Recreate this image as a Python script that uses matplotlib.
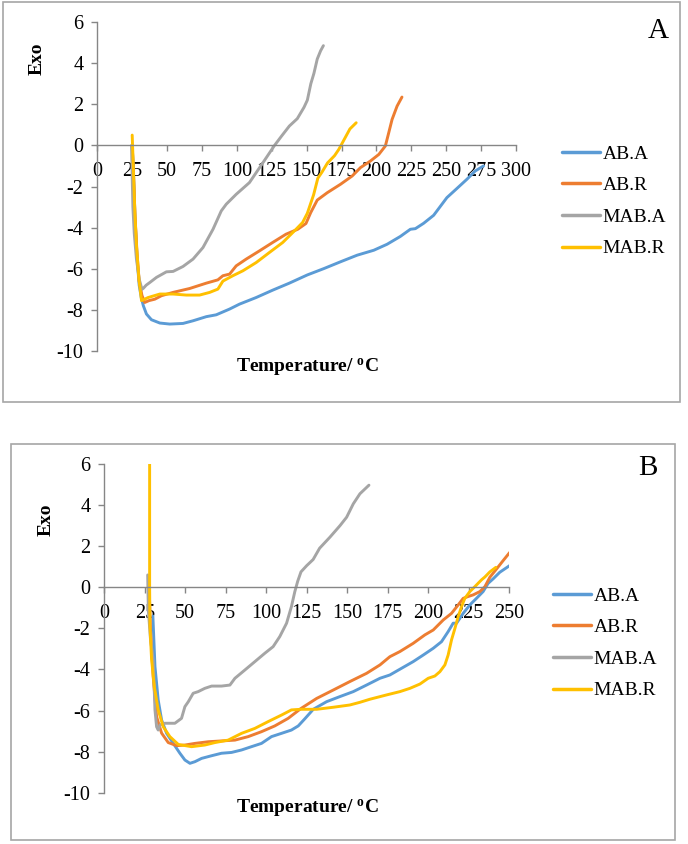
import matplotlib
matplotlib.use('Agg')
from matplotlib import pyplot as plt
from matplotlib.patches import Rectangle

plt.rcParams['font.family'] = ['Liberation Serif', 'DejaVu Serif']
plt.rcParams['mathtext.fontset'] = 'custom'
plt.rcParams['mathtext.rm'] = 'Liberation Serif'
plt.rcParams['mathtext.bf'] = 'Liberation Serif:bold'
plt.rcParams['axes.unicode_minus'] = False

series_names = ['AB.A', 'AB.R', 'MAB.A', 'MAB.R']
colors = ['#5B9BD5', '#ED7D31', '#A5A5A5', '#FFC000']

# ---- panel A data (temperature, exo) ----
a_aba_x = [25, 26, 27, 28.5, 30, 31.5, 33, 35.2, 38.8, 44.8, 51.9, 61.4, 68.6, 78.1, 85.2, 94.8, 101.9,
           113.8, 125.7, 137.6, 150.5, 162.4, 174.3, 186.2, 198.1, 207.6, 217.1, 224.3, 227.9, 233.8,
           241, 250.5, 257.6, 264.8, 270.7, 276.7]
a_aba_y = [0, -1.5, -3.5, -5.5, -6.8, -7.4, -7.8, -8.2, -8.48, -8.64, -8.69, -8.66, -8.53, -8.33, -8.24,
           -7.96, -7.72, -7.4, -7.04, -6.7, -6.3, -5.99, -5.66, -5.34, -5.1, -4.81, -4.43, -4.08, -4.05,
           -3.79, -3.4, -2.54, -2.1, -1.65, -1.25, -1.0]

a_abr_x = [25, 26, 27, 28.5, 30, 32, 34, 37, 41.2, 46, 54.3, 66.2, 78.1, 86.4, 90, 94.8, 99.5, 106.7,
           116.2, 125.7, 135.2, 143.6, 149.5, 152.9, 157.6, 164.8, 174.3, 182.6, 188.6, 195.7, 201.7,
           206.4, 208.8, 211.2, 214.8, 218.3]
a_abr_y = [0, -1.5, -3.4, -5.3, -6.6, -7.3, -7.64, -7.55, -7.48, -7.31, -7.15, -6.96, -6.7, -6.54, -6.34,
           -6.26, -5.86, -5.53, -5.13, -4.72, -4.32, -4.08, -3.8, -3.27, -2.66, -2.3, -1.89, -1.49, -1.08,
           -0.76, -0.44, -0.03, 0.61, 1.26, 1.91, 2.35]

a_maba_x = [24.5, 25, 25.5, 26.5, 28, 30, 32, 33, 35, 37.6, 42.4, 49.5, 54.3, 61.4, 68.6, 75.7, 82.9,
            88.8, 92.4, 99.5, 109, 118.6, 127, 132, 137.6, 143.3, 148.1, 150.5, 153, 155.2, 157.6,
            160, 162]
a_maba_y = [0, -1.5, -3, -4.3, -5.5, -6.5, -7.0, -6.95, -6.8, -6.67, -6.42, -6.15, -6.13, -5.89, -5.53,
            -4.97, -4.08, -3.19, -2.86, -2.38, -1.81, -0.85, 0, 0.45, 0.94, 1.3, 1.85, 2.2, 3.0, 3.5,
            4.2, 4.6, 4.85]

a_mabr_x = [25, 25.7, 26.9, 28.1, 29.8, 31.7, 36.4, 44.8, 54.3, 63.8, 73.3, 80.5, 86.4, 90, 97.1, 104.3,
            113.8, 123.3, 132.9, 142.4, 147.1, 150.5, 155, 158, 161, 165, 170, 173, 177, 181, 185.5]
a_mabr_y = [0.5, -0.84, -3.27, -4.89, -6.5, -7.55, -7.4, -7.23, -7.23, -7.28, -7.28, -7.15, -6.99, -6.6,
            -6.34, -6.1, -5.7, -5.21, -4.72, -4.08, -3.75, -3.3, -2.4, -1.6, -1.3, -0.85, -0.5, -0.2,
            0.3, 0.8, 1.1]

# ---- panel B data ----
b_aba_x = [30, 31.3, 33.3, 35.4, 38.5, 42.6, 46.7, 49.8, 52.9, 56, 60.1, 66.3, 72.4, 78.6, 84.8, 90.9,
           97.1, 103.3, 109.5, 115.6, 119.8, 123.9, 129.1, 137.3, 145.6, 153.8, 162, 170.3, 176.4,
           182.6, 190.8, 197, 203.2, 208.3, 212.4, 215.5, 217.6, 221.7, 225.8, 229.9, 234, 237.1,
           240.2, 244.3, 250.5]
b_aba_y = [-1.4, -3.86, -5.49, -6.46, -7.11, -7.6, -8.08, -8.41, -8.57, -8.49, -8.33, -8.2, -8.08, -8.04,
           -7.92, -7.76, -7.6, -7.27, -7.11, -6.95, -6.75, -6.4, -5.94, -5.57, -5.32, -5.08, -4.76,
           -4.43, -4.27, -3.99, -3.62, -3.3, -2.97, -2.65, -2.16, -1.75, -1.75, -1.27, -0.86, -0.54,
           -0.21, 0.19, 0.41, 0.73, 1.06]

b_abr_x = [27.5, 28.5, 30.2, 32.3, 35.4, 39.5, 44.7, 49.8, 56, 64.2, 72.4, 80.7, 88.9, 97.1, 105.3,
           113.6, 121.5, 131.2, 141.5, 151.7, 162, 170.3, 176.4, 182.6, 190.8, 198, 203.2, 209.4,
           214.5, 218.6, 221.7, 224.8, 227.9, 232, 235.1, 238.2, 242.3, 246.4, 250.5]
b_abr_y = [0.5, -2, -4.35, -6.3, -7.1, -7.56, -7.71, -7.68, -7.6, -7.52, -7.48, -7.44, -7.27, -7.03,
           -6.75, -6.38, -5.9, -5.41, -5.0, -4.59, -4.19, -3.78, -3.38, -3.13, -2.73, -2.32, -2.08,
           -1.59, -1.27, -0.86, -0.54, -0.45, -0.37, -0.21, 0.03, 0.49, 0.89, 1.3, 1.7]

b_maba_x = [26.8, 27.2, 28.5, 30.2, 31.3, 32.3, 33.3, 34.4, 37.4, 43.6, 47.7, 49.8, 51.9, 54.9, 58,
            62.1, 66.3, 72.4, 77.6, 80.7, 86.8, 93, 99.2, 104.3, 108.4, 112.6, 115.6, 117.7, 119.5,
            121.5, 125, 129, 133, 139.4, 145.6, 149.7, 153.8, 157.9, 163.5]
b_maba_y = [0.6, -1.1, -2.5, -3.54, -5.97, -6.79, -6.95, -6.7, -6.62, -6.62, -6.38, -5.81, -5.57,
            -5.16, -5.08, -4.92, -4.81, -4.81, -4.76, -4.43, -4.03, -3.62, -3.21, -2.89, -2.4, -1.75,
            -0.94, -0.21, 0.3, 0.75, 1.05, 1.35, 1.9, 2.44, 3.0, 3.41, 4.06, 4.55, 4.97]

b_mabr_x = [28, 28, 28.2, 29.2, 30.9, 33.3, 36.4, 40.5, 45.7, 53.9, 62.1, 68.3, 76.5, 84.8, 93, 101.2,
            109.5, 115.6, 121.5, 131.2, 141.5, 151.7, 157.9, 164.1, 174.4, 182.6, 188.8, 195, 200.1,
            204.2, 207.3, 210.4, 212.4, 214.5, 216.6, 218.6, 220.7, 222.7, 225.8, 228.9, 233, 235.1,
            238.2, 241.9]
b_mabr_y = [6, 0, -1.9, -3.5, -4.84, -5.97, -6.79, -7.27, -7.65, -7.76, -7.68, -7.56, -7.44, -7.11,
            -6.87, -6.54, -6.22, -5.97, -5.94, -5.94, -5.84, -5.73, -5.6, -5.45, -5.24, -5.08, -4.92,
            -4.71, -4.43, -4.32, -4.11, -3.78, -3.3, -2.56, -2.0, -1.43, -0.94, -0.54, -0.21, 0.03,
            0.36, 0.5, 0.75, 0.97]

panel_a = [(a_aba_x, a_aba_y), (a_abr_x, a_abr_y), (a_maba_x, a_maba_y), (a_mabr_x, a_mabr_y)]
panel_b = [(b_aba_x, b_aba_y), (b_abr_x, b_abr_y), (b_maba_x, b_maba_y), (b_mabr_x, b_mabr_y)]

W, H = 688, 844
fig = plt.figure(figsize=(W / 100, H / 100), dpi=100)
axis_grey = '#868686'


def fx(px):
    return px / W


def fy(py):
    return 1 - py / H


def draw_panel(rect, data, xmax, letter, letter_pos, exo_pos, temp_pos, leg_pos, frame):
    # outer grey frame (chart area border)
    fig.patches.append(Rectangle((fx(frame[0]), fy(frame[3])), fx(frame[2] - frame[0]),
                                 (frame[3] - frame[1]) / H, transform=fig.transFigure,
                                 fill=False, edgecolor='#A6A6A6', linewidth=1.2))
    ax = fig.add_axes(rect)
    for (x, y), name, c in zip(data, series_names, colors):
        ax.plot(x, y, color=c, linewidth=2.1, label=name, solid_capstyle='round')
    ax.set_xlim(0, xmax)
    ax.set_ylim(-10, 6)
    ax.set_xticks(range(0, xmax + 1, 25))
    ax.set_yticks(range(-10, 7, 2))
    for s in ['top', 'right']:
        ax.spines[s].set_visible(False)
    ax.spines['bottom'].set_position(('data', 0))
    for s in ['bottom', 'left']:
        ax.spines[s].set_color(axis_grey)
        ax.spines[s].set_linewidth(1.0)
    ax.tick_params(axis='x', direction='out', length=4, width=1, color=axis_grey,
                   labelsize=14.5, pad=8)
    ax.tick_params(axis='y', direction='out', length=4, width=1, color=axis_grey,
                   labelsize=14.5, pad=6)
    ax.patch.set_visible(False)

    leg = ax.legend(loc='upper left', bbox_to_anchor=(fx(leg_pos[0]), fy(leg_pos[1])),
                    bbox_transform=fig.transFigure, frameon=False, fontsize=14,
                    handlelength=1.95, handletextpad=0.15, labelspacing=0.72,
                    borderpad=0, borderaxespad=0)
    for line in leg.get_lines():
        line.set_linewidth(2.5)

    fig.text(fx(letter_pos[0]), fy(letter_pos[1]), letter, fontsize=21,
             ha='center', va='center')
    fig.text(fx(exo_pos[0]), fy(exo_pos[1]), 'Exo', fontsize=14, fontweight='bold',
             rotation=90, ha='center', va='center')
    fig.text(fx(temp_pos[0]), fy(temp_pos[1]), r'Temperature/ $\mathbf{^{o}}$C', fontsize=14,
             fontweight='bold', ha='center', va='center')
    return ax


# axes rects from pixel positions of the plot areas
ax_a = draw_panel([fx(97.3), fy(351), fx(516) - fx(97.3), (351 - 22) / H], panel_a, 300, 'A',
                  (658, 31), (37.5, 59), (307, 367), (562, 145), (3, 2, 680, 402))
ax_b = draw_panel([fx(104.3), fy(792.7), fx(509) - fx(104.3), (792.7 - 464) / H], panel_b, 250, 'B',
                  (648, 468), (46, 520), (307, 808), (553, 587), (11, 444, 675, 840))

fig.savefig('out.png', dpi=100)
